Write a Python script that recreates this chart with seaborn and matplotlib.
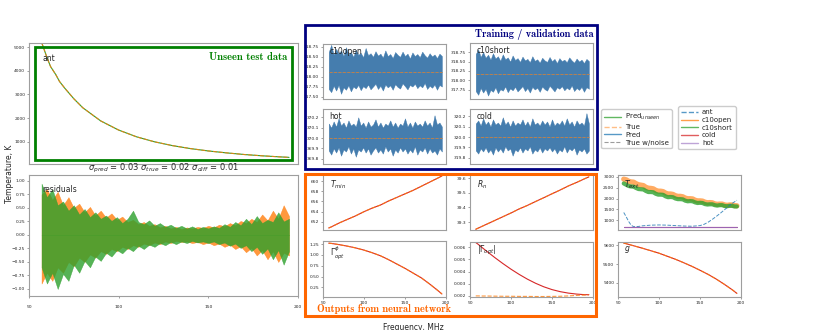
import numpy as np
import matplotlib.pyplot as plt
import seaborn as sns
from matplotlib.patches import Rectangle
from matplotlib.lines import Line2D

sns.set_style("ticks")
plt.rcParams.update({
    "font.family": ["DejaVu Sans"],
    "axes.edgecolor": "0.62",
    "axes.linewidth": 0.8,
    "xtick.labelsize": 3.2,
    "ytick.labelsize": 3.2,
    "xtick.major.size": 1.5,
    "ytick.major.size": 1.5,
    "xtick.major.width": 0.4,
    "ytick.major.width": 0.4,
    "xtick.major.pad": 1.2,
    "ytick.major.pad": 1.2,
    "xtick.color": "0.35",
    "ytick.color": "0.35",
    "xtick.labelcolor": "0.15",
    "ytick.labelcolor": "0.15",
})

# ---- data ----
freq = [57, 60, 65, 70, 80, 90, 100, 110, 120, 130, 140, 150, 160, 170, 180, 190, 195]

ant_freq_u = [57, 58, 60, 62, 65, 67, 70, 75, 80, 90, 100, 110, 120, 130, 140, 150, 160, 170, 180, 190, 195]
ant_true = [5200, 4990, 4560, 4180, 3830, 3550, 3260, 2820, 2440, 1885, 1500, 1215, 1005, 845, 720, 620, 540,
            470, 415, 370, 350]
ant_pred = [5200, 4990, 4560, 4180, 3830, 3550, 3260, 2820, 2440, 1885, 1500, 1215, 1005, 845, 720, 620, 540,
            470, 415, 370, 350]

tmin = [650.8, 651.0, 651.4, 651.8, 652.5, 653.2, 654.0, 654.7, 655.3, 656.1, 656.8, 657.5, 658.2, 659.0, 659.8, 660.6, 661.0]
rn = [39.250, 39.258, 39.271, 39.284, 39.310, 39.336, 39.362, 39.390, 39.414, 39.441, 39.467, 39.494, 39.520, 39.548, 39.572, 39.598, 39.610]
gphi = [1.27, 1.265, 1.25, 1.235, 1.20, 1.16, 1.11, 1.05, 0.98, 0.89, 0.79, 0.69, 0.58, 0.47, 0.33, 0.18, 0.10]
gabs_pred = [0.00640, 0.00625, 0.00597, 0.00570, 0.00517, 0.00467, 0.00420, 0.00377, 0.00338, 0.00304,
             0.00275, 0.00252, 0.00235, 0.00223, 0.00215, 0.00210, 0.00210]
gabs_true = [0.00200, 0.00200, 0.00199, 0.00199, 0.00198, 0.00197, 0.00197, 0.00196, 0.00196, 0.00195,
             0.00195, 0.00196, 0.00197, 0.00200, 0.00204, 0.00207, 0.00208]
gain = [9610, 9607, 9601, 9595, 9583, 9570, 9557, 9541, 9525, 9507, 9488, 9467, 9445, 9420, 9392, 9362, 9345]

# residual envelopes (57..195 MHz, 3 MHz steps)
res_green_hi = [0.95, 0.70, 0.85, 0.55, 0.62, 0.45, 0.55, 0.38, 0.48, 0.33, 0.42, 0.30, 0.36, 0.26, 0.33, 0.22,
                0.30, 0.45, 0.24, 0.20, 0.27, 0.17, 0.22, 0.15, 0.19, 0.13, 0.17, 0.12, 0.16, 0.11, 0.15, 0.12,
                0.16, 0.13, 0.20, 0.15, 0.24, 0.18, 0.30, 0.20, 0.35, 0.22, 0.28, 0.24, 0.42, 0.25, 0.30]
res_green_lo = [-0.60, -0.90, -0.70, -1.00, -0.72, -0.85, -0.55, -0.70, -0.48, -0.60, -0.40, -0.48, -0.33, -0.40,
                -0.28, -0.34, -0.24, -0.30, -0.20, -0.26, -0.18, -0.22, -0.15, -0.19, -0.13, -0.17, -0.12, -0.15,
                -0.11, -0.14, -0.12, -0.15, -0.12, -0.17, -0.14, -0.20, -0.16, -0.24, -0.19, -0.30, -0.22, -0.35,
                -0.25, -0.45, -0.28, -0.55, -0.30]
res_orange_hi = [0.75, 0.85, 0.65, 0.80, 0.55, 0.70, 0.50, 0.58, 0.42, 0.52, 0.36, 0.45, 0.32, 0.40, 0.28, 0.34,
                 0.24, 0.28, 0.20, 0.24, 0.17, 0.20, 0.14, 0.17, 0.12, 0.15, 0.11, 0.14, 0.12, 0.15, 0.13, 0.17,
                 0.14, 0.19, 0.16, 0.22, 0.18, 0.26, 0.22, 0.30, 0.24, 0.38, 0.27, 0.45, 0.30, 0.55, 0.35]
res_orange_lo = [-0.90, -0.70, -0.85, -0.60, -0.70, -0.50, -0.58, -0.42, -0.50, -0.36, -0.42, -0.30, -0.35, -0.26,
                 -0.30, -0.22, -0.26, -0.19, -0.22, -0.16, -0.19, -0.14, -0.17, -0.12, -0.15, -0.11, -0.13, -0.12,
                 -0.15, -0.13, -0.17, -0.14, -0.19, -0.16, -0.22, -0.18, -0.26, -0.21, -0.32, -0.24, -0.38, -0.28,
                 -0.45, -0.30, -0.50, -0.33, -0.38]

# training data: true level and noisy envelopes
c10open_true = 318.12
c10open_hi = [318.62, 318.80, 318.55, 318.70, 318.58, 318.66, 318.52, 318.74, 318.56, 318.62, 318.50, 318.68,
              318.55, 318.60, 318.49, 318.72, 318.54, 318.59, 318.50, 318.64, 318.53, 318.58, 318.48, 318.66,
              318.52, 318.57, 318.47, 318.62, 318.55, 318.50, 318.63, 318.52, 318.58, 318.46, 318.61, 318.52,
              318.57, 318.49, 318.63, 318.54, 318.48, 318.59, 318.51, 318.56, 318.47, 318.58, 318.52]
c10open_lo = [317.70, 317.62, 317.78, 317.66, 317.80, 317.58, 317.74, 317.68, 317.79, 317.64, 317.76, 317.71,
              317.80, 317.67, 317.77, 317.72, 317.81, 317.69, 317.76, 317.83, 317.70, 317.78, 317.66, 317.81,
              317.74, 317.79, 317.68, 317.82, 317.75, 317.71, 317.84, 317.77, 317.69, 317.80, 317.76, 317.83,
              317.72, 317.79, 317.74, 317.85, 317.70, 317.78, 317.73, 317.81, 317.68, 317.80, 317.76]
c10short_true = 318.17
c10short_hi = [318.70, 318.82, 318.62, 318.75, 318.60, 318.68, 318.55, 318.72, 318.58, 318.64, 318.52, 318.69,
               318.56, 318.61, 318.50, 318.66, 318.54, 318.59, 318.49, 318.63, 318.53, 318.57, 318.48, 318.64,
               318.52, 318.56, 318.47, 318.60, 318.53, 318.49, 318.62, 318.51, 318.57, 318.46, 318.59, 318.51,
               318.55, 318.48, 318.61, 318.53, 318.47, 318.58, 318.50, 318.55, 318.46, 318.57, 318.51]
c10short_lo = [317.72, 317.62, 317.80, 317.68, 317.78, 317.60, 317.75, 317.70, 317.82, 317.66, 317.77, 317.73,
               317.84, 317.69, 317.79, 317.74, 317.83, 317.71, 317.78, 317.85, 317.72, 317.80, 317.68, 317.83,
               317.76, 317.81, 317.70, 317.84, 317.77, 317.73, 317.86, 317.79, 317.71, 317.82, 317.78, 317.85,
               317.74, 317.81, 317.76, 317.87, 317.72, 317.80, 317.75, 317.83, 317.70, 317.82, 317.78]
hot_true = 370.00
hot_hi = [370.14, 370.10, 370.16, 370.11, 370.19, 370.12, 370.15, 370.10, 370.17, 370.12, 370.14, 370.11,
          370.20, 370.12, 370.15, 370.10, 370.16, 370.11, 370.13, 370.18, 370.11, 370.15, 370.10, 370.14,
          370.12, 370.17, 370.11, 370.15, 370.10, 370.14, 370.12, 370.19, 370.11, 370.15, 370.10, 370.16,
          370.12, 370.14, 370.11, 370.17, 370.12, 370.15, 370.10, 370.22, 370.13, 370.15, 370.11]
hot_lo = [369.88, 369.84, 369.90, 369.86, 369.91, 369.83, 369.89, 369.87, 369.92, 369.85, 369.90, 369.82,
          369.89, 369.87, 369.91, 369.86, 369.90, 369.84, 369.88, 369.91, 369.86, 369.89, 369.85, 369.92,
          369.87, 369.90, 369.83, 369.89, 369.86, 369.91, 369.87, 369.90, 369.85, 369.89, 369.86, 369.92,
          369.84, 369.89, 369.87, 369.91, 369.85, 369.90, 369.86, 369.88, 369.84, 369.90, 369.87]
cold_true = 320.00
cold_hi = [320.13, 320.16, 320.11, 320.18, 320.12, 320.15, 320.10, 320.17, 320.12, 320.14, 320.11, 320.19,
           320.12, 320.15, 320.10, 320.16, 320.11, 320.14, 320.12, 320.17, 320.11, 320.15, 320.10, 320.18,
           320.12, 320.14, 320.11, 320.16, 320.12, 320.15, 320.10, 320.17, 320.11, 320.14, 320.12, 320.16,
           320.11, 320.18, 320.12, 320.15, 320.10, 320.16, 320.12, 320.14, 320.11, 320.23, 320.13]
cold_lo = [319.87, 319.84, 319.89, 319.86, 319.90, 319.85, 319.88, 319.83, 319.90, 319.86, 319.89, 319.85,
           319.91, 319.87, 319.89, 319.82, 319.88, 319.86, 319.90, 319.85, 319.89, 319.87, 319.91, 319.84,
           319.88, 319.86, 319.90, 319.85, 319.89, 319.87, 319.90, 319.86, 319.89, 319.84, 319.88, 319.86,
           319.91, 319.85, 319.89, 319.87, 319.90, 319.83, 319.88, 319.86, 319.89, 319.84, 319.87]

# T_ext panel
text_c10open = [2900, 2870, 2800, 2770, 2760, 2690, 2640, 2620, 2600, 2520, 2480, 2470, 2450, 2380, 2340, 2340,
                2320, 2250, 2210, 2210, 2190, 2130, 2100, 2100, 2080, 2020, 1990, 1990, 1980, 1920, 1890, 1890,
                1880, 1830, 1800, 1810, 1800, 1750, 1730, 1740, 1740, 1700, 1680, 1700, 1700, 1670, 1660]
text_c10short = [2700, 2640, 2580, 2560, 2550, 2490, 2440, 2430, 2420, 2350, 2300, 2300, 2290, 2220, 2180, 2180,
                 2170, 2100, 2060, 2070, 2060, 2000, 1970, 1970, 1960, 1900, 1870, 1880, 1870, 1820, 1790, 1800,
                 1790, 1740, 1720, 1730, 1730, 1690, 1670, 1690, 1690, 1650, 1640, 1660, 1660, 1630, 1630]
ant_freq = [57, 60, 63, 66, 69, 75, 80, 90, 100, 110, 120, 130, 140, 150, 155, 160, 165, 170, 175, 180, 185, 190, 195]
text_ant = [1350, 1150, 930, 760, 690, 700, 730, 760, 770, 760, 740, 720, 710, 740, 800, 900, 1030, 1170, 1320,
            1480, 1640, 1790, 1920]
text_cold = [668] * len(freq)
text_hot = [670] * len(freq)

C0, C1, C2, C3, C4 = "#1f77b4", "#ff7f0e", "#2ca02c", "#d62728", "#9467bd"
BAND = "#3b76aa"

W, H = 818, 330
fig = plt.figure(figsize=(W / 100, H / 100), dpi=100)


def box_axes(x0, y0, x1, y1):
    return fig.add_axes([x0 / W, 1 - y1 / H, (x1 - x0) / W, (y1 - y0) / H])


def band(ax, hi, lo, level, color, alpha):
    xh = np.linspace(57, 195, len(hi))
    xl = np.linspace(57, 195, len(lo))
    ax.fill_between(xh, level, hi, color=color, alpha=alpha, lw=0.3)
    ax.fill_between(xl, lo, level, color=color, alpha=alpha, lw=0.3)


def label(ax, s, x=0.05, y=0.85):
    ax.text(x, y, s, transform=ax.transAxes, fontsize=5.5, ha="left", va="center")


# ---- left column ----
ax = box_axes(29, 43, 298, 164)
sns.lineplot(x=ant_freq_u, y=ant_pred, ax=ax, color=C2, lw=0.8)
sns.lineplot(x=ant_freq_u, y=ant_true, ax=ax, color=C1, lw=0.8, linestyle="--", alpha=0.8)
ax.set_xlim(50, 200)
ax.set_ylim(70, 5170)
ax.set_xticks([])
ax.set_yticks([1000, 2000, 3000, 4000, 5000])
label(ax, "ant", y=0.87)

ax = box_axes(29, 175, 298, 296)
band(ax, res_orange_hi, res_orange_lo, 0.0, C1, 0.8)
band(ax, res_green_hi, res_green_lo, 0.0, C2, 0.8)
ax.set_xlim(50, 200)
ax.set_ylim(-1.13, 1.11)
ax.set_yticks(np.arange(-1.0, 1.01, 0.25))
ax.set_xticks([50, 100, 150, 200])
ax.tick_params(axis="x", pad=5)
ax.set_title(r"$\sigma_{pred}$ = 0.03 $\sigma_{true}$ = 0.02 $\sigma_{diff}$ = 0.01", fontsize=6, pad=2)
label(ax, "residuals", y=0.88)

# ---- training panels ----
panels = [
    ((323, 44, 446, 99), c10open_hi, c10open_lo, c10open_true, (317.45, 318.82), np.arange(317.5, 318.8, 0.25), "c10open"),
    ((470, 43, 593, 99), c10short_hi, c10short_lo, c10short_true, (317.51, 318.99), np.arange(317.75, 318.8, 0.25), "c10short"),
    ((323, 109, 446, 164), hot_hi, hot_lo, hot_true, (369.75, 370.28), [369.8, 369.9, 370.0, 370.1, 370.2], "hot"),
    ((470, 109, 593, 164), cold_hi, cold_lo, cold_true, (319.74, 320.27), [319.8, 319.9, 320.0, 320.1, 320.2], "cold"),
]
for box, hi, lo, level, ylim, yt, name in panels:
    ax = box_axes(*box)
    band(ax, hi, lo, level, BAND, 0.95)
    sns.lineplot(x=[57, 195], y=[level, level], ax=ax, color=C1, lw=0.6, linestyle="--", alpha=0.7)
    ax.set_xlim(50, 200)
    ax.set_ylim(*ylim)
    ax.set_yticks(yt)
    ax.set_xticks([])
    label(ax, name, y=0.86)

# ---- network outputs ----
outputs = [
    ((323, 174, 446, 230), tmin, tmin, (650.4, 661.4), [652, 654, 656, 658, 660], "{:.0f}", r"$T_{min}$", 0.8),
    ((470, 174, 593, 230), rn, rn, (39.245, 39.63), [39.3, 39.4, 39.5, 39.6], "{:.1f}", r"$R_n$", 0.8),
    ((323, 241, 446, 297), gphi, gphi, (0.03, 1.32), [0.25, 0.5, 0.75, 1.0, 1.25], "{:.2f}", r"$\Gamma^{\phi}_{opt}$", 0.79),
    ((470, 242, 593, 297), gabs_pred, gabs_true, (0.00191, 0.00644), [0.002, 0.003, 0.004, 0.005, 0.006], "{:.3f}",
     r"$|\Gamma_{opt}|$", 0.85),
]
for box, pred, true, ylim, yt, fmt, name, ly in outputs:
    ax = box_axes(*box)
    sns.lineplot(x=freq, y=pred, ax=ax, color=C3, lw=0.8)
    sns.lineplot(x=freq, y=true, ax=ax, color=C1, lw=0.8, linestyle="--", alpha=0.8)
    ax.set_xlim(50, 200)
    ax.set_ylim(*ylim)
    ax.set_yticks(yt)
    ax.set_yticklabels([fmt.format(v) for v in yt])
    ax.set_xticks([50, 100, 150, 200] if box[1] > 235 else [])
    label(ax, name, x=0.06, y=ly)

# ---- right column ----
ax = box_axes(618, 175, 741, 230)
sns.lineplot(x=np.linspace(57, 195, len(text_c10open)), y=text_c10open, ax=ax, color=C1, lw=3.8, alpha=0.65)
sns.lineplot(x=np.linspace(57, 195, len(text_c10short)), y=text_c10short, ax=ax, color=C2, lw=3.0, alpha=0.8)
sns.lineplot(x=ant_freq, y=text_ant, ax=ax, color=C0, lw=0.7, linestyle="--", alpha=0.8)
sns.lineplot(x=freq, y=text_cold, ax=ax, color=C3, lw=0.8, alpha=0.8)
sns.lineplot(x=freq, y=text_hot, ax=ax, color=C4, lw=0.8, alpha=0.9)
ax.set_xlim(50, 200)
ax.set_ylim(535, 3093)
ax.set_yticks([1000, 1500, 2000, 2500, 3000])
ax.set_xticks([])
label(ax, r"$T_{ext}$", y=0.82)

ax = box_axes(618, 242, 741, 297)
sns.lineplot(x=freq, y=gain, ax=ax, color=C3, lw=0.8)
sns.lineplot(x=freq, y=gain, ax=ax, color=C1, lw=0.8, linestyle="--", alpha=0.8)
ax.set_xlim(50, 200)
ax.set_ylim(9326, 9616)
ax.set_yticks([9400, 9500, 9600])
ax.set_xticks([50, 100, 150, 200])
label(ax, r"$g$", y=0.86)

# ---- legends ----
h1 = [Line2D([], [], color=C2, lw=1.0, alpha=0.75),
      Line2D([], [], color=C1, lw=1.0, ls="--", alpha=0.5),
      Line2D([], [], color=C0, lw=1.0, alpha=0.75),
      Line2D([], [], color="0.45", lw=0.8, ls="--", alpha=0.7)]
fig.legend(h1, [r"Pred$_{unseen}$", "True", "Pred", "True w/noise"], loc="upper left",
           bbox_to_anchor=(598 / W, 1 - 106 / H), fontsize=5, labelspacing=0.25,
           handlelength=2.4, borderpad=0.4, handletextpad=0.6, framealpha=1)
h2 = [Line2D([], [], color=C0, lw=1.0, ls="--", alpha=0.75),
      Line2D([], [], color=C1, lw=1.0, alpha=0.75),
      Line2D([], [], color=C2, lw=1.0, alpha=0.75),
      Line2D([], [], color=C3, lw=1.0, alpha=0.75),
      Line2D([], [], color=C4, lw=1.0, alpha=0.6)]
fig.legend(h2, ["ant", "c10open", "c10short", "cold", "hot"], loc="upper left",
           bbox_to_anchor=(675 / W, 1 - 103 / H), fontsize=5, labelspacing=0.25,
           handlelength=2.4, borderpad=0.4, handletextpad=0.6, framealpha=1)

# ---- group boxes and captions ----
for (x0, y0, x1, y1), col, lw in [((34.5, 47, 291.5, 159.5), "green", 2.0),
                                  ((305, 25, 597, 169), "navy", 2.0),
                                  ((305, 174, 596, 316), "#ff6600", 2.2)]:
    fig.add_artist(Rectangle((x0 / W, 1 - y1 / H), (x1 - x0) / W, (y1 - y0) / H,
                             transform=fig.transFigure, fill=False, edgecolor=col, lw=lw, zorder=5))

cap = dict(family="cmb10", va="center")
fig.text(287 / W, 1 - 57 / H, "Unseen test data", ha="right", color="green", fontsize=7.6, **cap)
fig.text(594 / W, 1 - 35 / H, "Training / validation data", ha="right", color="navy", fontsize=7.4, **cap)
fig.text(317 / W, 1 - 309 / H, "Outputs from neural network", ha="left", color="#ff6600", fontsize=7.4, **cap)

fig.text(9.5 / W, 1 - 174 / H, "Temperature, K", rotation=90, ha="center", va="center", fontsize=5.5)
fig.text(413 / W, 1 - 327 / H, "Frequency, MHz", ha="center", va="center", fontsize=5.5)

fig.savefig("out.png", dpi=100)
